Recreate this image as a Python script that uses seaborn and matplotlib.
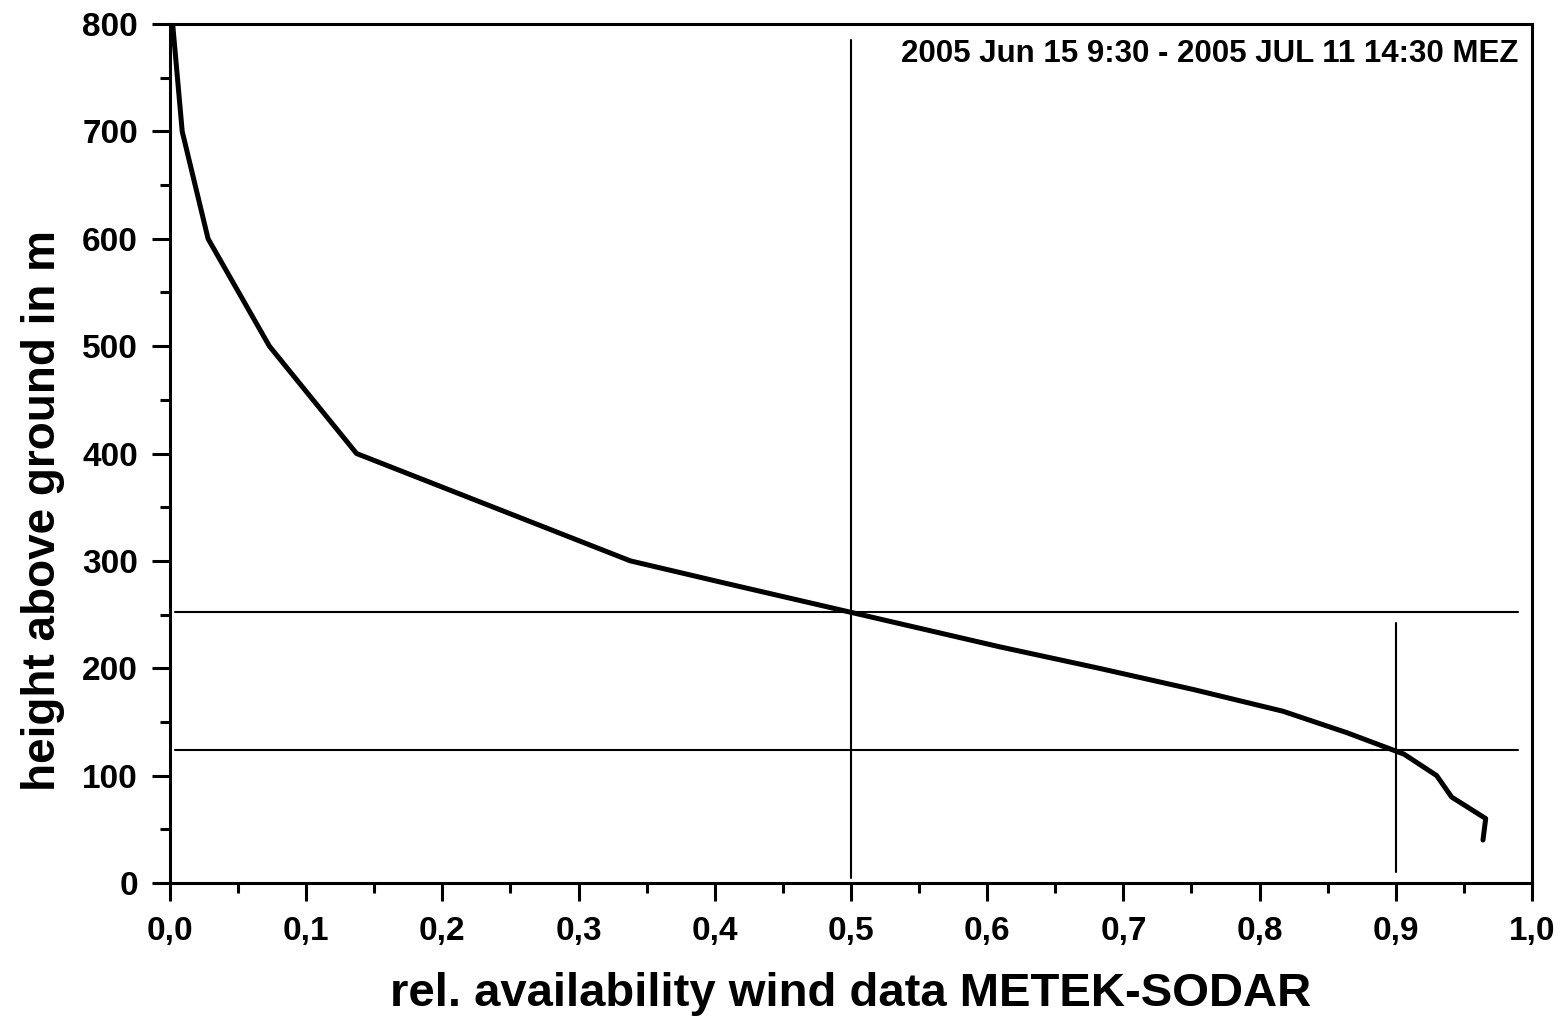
import matplotlib
matplotlib.use("Agg")
import matplotlib.pyplot as plt
from matplotlib.ticker import MultipleLocator, FuncFormatter
import seaborn as sns
import pandas as pd

# Relative availability of SODAR wind data per measuring height
height_m = [40, 60, 80, 100, 120, 140, 160, 180, 200, 220, 240, 260, 280, 300,
            400, 500, 600, 700, 800]
availability = [0.964, 0.966, 0.941, 0.930, 0.906, 0.864, 0.817, 0.752, 0.682,
                0.609, 0.541, 0.473, 0.405, 0.338, 0.137, 0.073, 0.028, 0.009,
                0.002]

# Reference lines: 50 % and 90 % availability and the matching heights
ref_avail = [0.5, 0.9]
ref_avail_ymax = [785, 242]
ref_avail_ymin = [5, 10]
ref_height = [252, 124]

period_text = "2005 Jun 15 9:30 - 2005 JUL 11 14:30 MEZ"
x_label = "rel. availability wind data METEK-SODAR"
y_label = "height above ground in m"

sns.set_style("ticks")
plt.rcParams["font.family"] = ["Liberation Sans", "DejaVu Sans"]
plt.rcParams["font.weight"] = "bold"

df = pd.DataFrame({"avail": availability, "height": height_m})

fig = plt.figure(figsize=(15.62, 10.19), dpi=100)
ax = fig.add_axes([0.1088, 0.1335, 0.9808 - 0.1088, 0.9764 - 0.1335])

sns.lineplot(data=df, x="avail", y="height", sort=False, estimator=None,
             color="black", linewidth=3.6, ax=ax)

for xv, y0, y1 in zip(ref_avail, ref_avail_ymin, ref_avail_ymax):
    ax.plot([xv, xv], [y0, y1], color="black", linewidth=1.5)
for hv in ref_height:
    ax.plot([0.004, 0.99], [hv, hv], color="black", linewidth=1.5)

ax.set_xlim(0, 1.0)
ax.set_ylim(0, 800)
ax.xaxis.set_major_locator(MultipleLocator(0.1))
ax.xaxis.set_minor_locator(MultipleLocator(0.05))
ax.yaxis.set_major_locator(MultipleLocator(100))
ax.yaxis.set_minor_locator(MultipleLocator(50))
ax.xaxis.set_major_formatter(FuncFormatter(lambda v, p: f"{v:.1f}".replace(".", ",")))
ax.yaxis.set_major_formatter(FuncFormatter(lambda v, p: f"{v:.0f}"))

for s in ax.spines.values():
    s.set_linewidth(2.2)
    s.set_color("black")

ax.tick_params(which="major", direction="out", length=13, width=2.2,
               labelsize=24, colors="black")
ax.tick_params(which="minor", direction="out", length=7, width=2.2, colors="black")
ax.tick_params(axis="x", which="major", pad=11)
ax.tick_params(axis="y", which="major", pad=10)
for lab in ax.get_xticklabels() + ax.get_yticklabels():
    lab.set_fontweight("bold")

ax.set_xlabel(x_label, fontsize=34, fontweight="bold", labelpad=18, color="black")
ax.set_ylabel(y_label, fontsize=33, fontweight="bold", labelpad=12, color="black",
              y=0.434)

ax.text(0.99, 0.983, period_text, transform=ax.transAxes, ha="right", va="top",
        fontsize=22.5, fontweight="bold", color="black")

fig.savefig("out.png", dpi=100, facecolor="white")
